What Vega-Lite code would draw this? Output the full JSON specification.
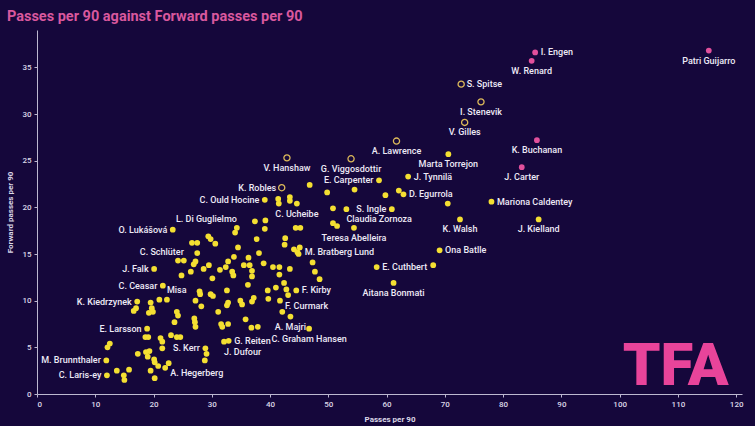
{
  "$schema": "https://vega.github.io/schema/vega-lite/v6.json",
  "width": 705,
  "height": 364,
  "autosize": {"type": "pad"},
  "padding": {"left": 6, "top": 8, "right": 12, "bottom": 3},
  "background": "#15073b",
  "title": {"text": "Passes per 90 against Forward passes per 90", "anchor": "start", "frame": "bounds", "color": "#d9589e", "fontSize": 14.5, "font": "Roboto", "fontWeight": "bold", "offset": 6},
  "config": {
    "view": {"stroke": null},
    "axis": {"domainColor": "#bdb8d0", "tickColor": "#bdb8d0", "tickSize": 3, "labelColor": "#dcd8e8", "labelFont": "Roboto", "labelFontSize": 8, "labelFontWeight": 500, "titleColor": "#dcd8e8", "titleFont": "Roboto", "titleFontSize": 8, "titleFontWeight": "bold", "labelPadding": 3, "titlePadding": 7, "grid": false}
  },
  "data": {"values": [
    {"name": "I. Engen", "passes": 85.5, "fwd": 36.6, "group": "Highlighted"},
    {"name": "W. Renard", "passes": 84.9, "fwd": 35.7, "group": "Highlighted"},
    {"name": "Patri Guijarro", "passes": 115.3, "fwd": 36.8, "group": "Highlighted"},
    {"name": "K. Buchanan", "passes": 85.8, "fwd": 27.2, "group": "Highlighted"},
    {"name": "J. Carter", "passes": 83.2, "fwd": 24.3, "group": "Highlighted"},
    {"name": "S. Spitse", "passes": 72.8, "fwd": 33.2, "group": "Circled"},
    {"name": "I. Stenevik", "passes": 76.2, "fwd": 31.3, "group": "Circled"},
    {"name": "V. Gilles", "passes": 73.4, "fwd": 29.1, "group": "Circled"},
    {"name": "A. Lawrence", "passes": 61.7, "fwd": 27.1, "group": "Circled"},
    {"name": "V. Hanshaw", "passes": 42.9, "fwd": 25.3, "group": "Circled"},
    {"name": "G. Viggosdottir", "passes": 53.9, "fwd": 25.2, "group": "Circled"},
    {"name": "K. Robles", "passes": 42.0, "fwd": 22.1, "group": "Circled"},
    {"name": "Marta Torrejon", "passes": 70.6, "fwd": 25.7, "group": "Other"},
    {"name": "Mariona Caldentey", "passes": 78.0, "fwd": 20.6, "group": "Other"},
    {"name": "K. Walsh", "passes": 72.6, "fwd": 18.7, "group": "Other"},
    {"name": "J. Kielland", "passes": 86.1, "fwd": 18.7, "group": "Other"},
    {"name": "Ona Batlle", "passes": 69.1, "fwd": 15.4, "group": "Other"},
    {"name": "E. Cuthbert", "passes": 58.3, "fwd": 13.6, "group": "Other"},
    {"name": "Aitana Bonmati", "passes": 61.2, "fwd": 11.9, "group": "Other"},
    {"name": "J. Tynnilä", "passes": 63.7, "fwd": 23.3, "group": "Other"},
    {"name": "E. Carpenter", "passes": 58.7, "fwd": 22.9, "group": "Other"},
    {"name": "D. Egurrola", "passes": 62.9, "fwd": 21.4, "group": "Other"},
    {"name": "S. Ingle", "passes": 60.9, "fwd": 19.8, "group": "Other"},
    {"name": "Claudia Zornoza", "passes": 53.1, "fwd": 19.8, "group": "Other"},
    {"name": "Teresa Abelleira", "passes": 54.4, "fwd": 17.8, "group": "Other"},
    {"name": "C. Ucheibe", "passes": 44.6, "fwd": 20.4, "group": "Other"},
    {"name": "C. Ould Hocine", "passes": 39.1, "fwd": 20.8, "group": "Other"},
    {"name": "M. Bratberg Lund", "passes": 45.1, "fwd": 15.7, "group": "Other"},
    {"name": "F. Kirby", "passes": 44.5, "fwd": 11.1, "group": "Other"},
    {"name": "F. Curmark", "passes": 41.7, "fwd": 10.0, "group": "Other"},
    {"name": "A. Majri", "passes": 43.5, "fwd": 8.3, "group": "Other"},
    {"name": "C. Graham Hansen", "passes": 46.7, "fwd": 7.0, "group": "Other"},
    {"name": "G. Reiten", "passes": 32.9, "fwd": 5.7, "group": "Other"},
    {"name": "J. Dufour", "passes": 32.1, "fwd": 5.6, "group": "Other"},
    {"name": "L. Di Guglielmo", "passes": 34.3, "fwd": 17.8, "group": "Other"},
    {"name": "O. Lukášová", "passes": 23.3, "fwd": 17.6, "group": "Other"},
    {"name": "C. Schlüter", "passes": 25.2, "fwd": 14.3, "group": "Other"},
    {"name": "J. Falk", "passes": 20.1, "fwd": 13.4, "group": "Other"},
    {"name": "C. Ceasar", "passes": 21.6, "fwd": 11.6, "group": "Other"},
    {"name": "Misa", "passes": 22.3, "fwd": 10.1, "group": "Other"},
    {"name": "K. Kiedrzynek", "passes": 17.2, "fwd": 9.9, "group": "Other"},
    {"name": "E. Larsson", "passes": 18.9, "fwd": 7.0, "group": "Other"},
    {"name": "M. Brunnthaler", "passes": 11.9, "fwd": 3.6, "group": "Other"},
    {"name": "C. Laris-ey", "passes": 12.0, "fwd": 2.0, "group": "Other"},
    {"name": "S. Kerr", "passes": 28.9, "fwd": 4.9, "group": "Other"},
    {"name": "A. Hegerberg", "passes": 22.0, "fwd": 2.8, "group": "Other"},
    {"name": "", "passes": 34.0, "fwd": 17.3, "group": "Other"},
    {"name": "", "passes": 37.4, "fwd": 18.5, "group": "Other"},
    {"name": "", "passes": 39.2, "fwd": 18.6, "group": "Other"},
    {"name": "", "passes": 39.1, "fwd": 17.7, "group": "Other"},
    {"name": "", "passes": 41.4, "fwd": 20.9, "group": "Other"},
    {"name": "", "passes": 41.5, "fwd": 20.4, "group": "Other"},
    {"name": "", "passes": 43.4, "fwd": 21.1, "group": "Other"},
    {"name": "", "passes": 43.4, "fwd": 20.7, "group": "Other"},
    {"name": "", "passes": 46.8, "fwd": 22.4, "group": "Other"},
    {"name": "", "passes": 49.8, "fwd": 21.6, "group": "Other"},
    {"name": "", "passes": 50.8, "fwd": 19.9, "group": "Other"},
    {"name": "", "passes": 54.5, "fwd": 21.9, "group": "Other"},
    {"name": "", "passes": 59.8, "fwd": 21.3, "group": "Other"},
    {"name": "", "passes": 62.1, "fwd": 21.8, "group": "Other"},
    {"name": "", "passes": 70.5, "fwd": 20.4, "group": "Other"},
    {"name": "", "passes": 44.4, "fwd": 17.8, "group": "Other"},
    {"name": "", "passes": 45.2, "fwd": 17.8, "group": "Other"},
    {"name": "", "passes": 50.8, "fwd": 18.3, "group": "Other"},
    {"name": "", "passes": 51.5, "fwd": 18.0, "group": "Other"},
    {"name": "", "passes": 68.0, "fwd": 13.8, "group": "Other"},
    {"name": "", "passes": 29.4, "fwd": 16.9, "group": "Other"},
    {"name": "", "passes": 29.8, "fwd": 16.6, "group": "Other"},
    {"name": "", "passes": 30.6, "fwd": 16.1, "group": "Other"},
    {"name": "", "passes": 26.6, "fwd": 16.2, "group": "Other"},
    {"name": "", "passes": 27.5, "fwd": 16.2, "group": "Other"},
    {"name": "", "passes": 27.5, "fwd": 15.1, "group": "Other"},
    {"name": "", "passes": 24.2, "fwd": 14.3, "group": "Other"},
    {"name": "", "passes": 27.2, "fwd": 14.2, "group": "Other"},
    {"name": "", "passes": 26.9, "fwd": 13.9, "group": "Other"},
    {"name": "", "passes": 26.4, "fwd": 13.1, "group": "Other"},
    {"name": "", "passes": 24.8, "fwd": 12.7, "group": "Other"},
    {"name": "", "passes": 28.6, "fwd": 13.4, "group": "Other"},
    {"name": "", "passes": 29.5, "fwd": 13.8, "group": "Other"},
    {"name": "", "passes": 31.4, "fwd": 13.3, "group": "Other"},
    {"name": "", "passes": 32.4, "fwd": 13.6, "group": "Other"},
    {"name": "", "passes": 32.8, "fwd": 14.2, "group": "Other"},
    {"name": "", "passes": 33.8, "fwd": 14.7, "group": "Other"},
    {"name": "", "passes": 34.5, "fwd": 15.7, "group": "Other"},
    {"name": "", "passes": 33.5, "fwd": 13.1, "group": "Other"},
    {"name": "", "passes": 33.7, "fwd": 12.7, "group": "Other"},
    {"name": "", "passes": 35.5, "fwd": 13.8, "group": "Other"},
    {"name": "", "passes": 36.3, "fwd": 14.6, "group": "Other"},
    {"name": "", "passes": 36.5, "fwd": 13.8, "group": "Other"},
    {"name": "", "passes": 36.9, "fwd": 13.2, "group": "Other"},
    {"name": "", "passes": 36.9, "fwd": 12.6, "group": "Other"},
    {"name": "", "passes": 37.7, "fwd": 16.6, "group": "Other"},
    {"name": "", "passes": 38.1, "fwd": 15.1, "group": "Other"},
    {"name": "", "passes": 38.9, "fwd": 14.0, "group": "Other"},
    {"name": "", "passes": 40.5, "fwd": 13.6, "group": "Other"},
    {"name": "", "passes": 41.6, "fwd": 13.6, "group": "Other"},
    {"name": "", "passes": 41.6, "fwd": 12.8, "group": "Other"},
    {"name": "", "passes": 43.4, "fwd": 13.4, "group": "Other"},
    {"name": "", "passes": 42.6, "fwd": 16.7, "group": "Other"},
    {"name": "", "passes": 42.5, "fwd": 16.0, "group": "Other"},
    {"name": "", "passes": 44.1, "fwd": 15.5, "group": "Other"},
    {"name": "", "passes": 44.7, "fwd": 15.2, "group": "Other"},
    {"name": "", "passes": 44.9, "fwd": 15.0, "group": "Other"},
    {"name": "", "passes": 47.3, "fwd": 14.1, "group": "Other"},
    {"name": "", "passes": 47.7, "fwd": 13.1, "group": "Other"},
    {"name": "", "passes": 48.5, "fwd": 12.3, "group": "Other"},
    {"name": "", "passes": 30.1, "fwd": 12.4, "group": "Other"},
    {"name": "", "passes": 36.2, "fwd": 11.7, "group": "Other"},
    {"name": "", "passes": 32.6, "fwd": 11.1, "group": "Other"},
    {"name": "", "passes": 29.8, "fwd": 10.7, "group": "Other"},
    {"name": "", "passes": 30.2, "fwd": 10.5, "group": "Other"},
    {"name": "", "passes": 27.9, "fwd": 11.0, "group": "Other"},
    {"name": "", "passes": 28.0, "fwd": 10.7, "group": "Other"},
    {"name": "", "passes": 27.2, "fwd": 10.0, "group": "Other"},
    {"name": "", "passes": 28.2, "fwd": 9.4, "group": "Other"},
    {"name": "", "passes": 32.8, "fwd": 9.8, "group": "Other"},
    {"name": "", "passes": 32.6, "fwd": 9.5, "group": "Other"},
    {"name": "", "passes": 34.9, "fwd": 10.0, "group": "Other"},
    {"name": "", "passes": 35.2, "fwd": 9.6, "group": "Other"},
    {"name": "", "passes": 36.9, "fwd": 9.9, "group": "Other"},
    {"name": "", "passes": 37.2, "fwd": 10.3, "group": "Other"},
    {"name": "", "passes": 31.1, "fwd": 8.8, "group": "Other"},
    {"name": "", "passes": 35.8, "fwd": 8.0, "group": "Other"},
    {"name": "", "passes": 31.6, "fwd": 7.5, "group": "Other"},
    {"name": "", "passes": 31.8, "fwd": 7.2, "group": "Other"},
    {"name": "", "passes": 32.8, "fwd": 7.5, "group": "Other"},
    {"name": "", "passes": 36.8, "fwd": 7.1, "group": "Other"},
    {"name": "", "passes": 37.9, "fwd": 7.2, "group": "Other"},
    {"name": "", "passes": 39.6, "fwd": 11.1, "group": "Other"},
    {"name": "", "passes": 41.0, "fwd": 11.4, "group": "Other"},
    {"name": "", "passes": 42.4, "fwd": 11.9, "group": "Other"},
    {"name": "", "passes": 42.8, "fwd": 11.2, "group": "Other"},
    {"name": "", "passes": 43.1, "fwd": 10.6, "group": "Other"},
    {"name": "", "passes": 39.7, "fwd": 10.2, "group": "Other"},
    {"name": "", "passes": 42.1, "fwd": 8.8, "group": "Other"},
    {"name": "", "passes": 27.0, "fwd": 8.1, "group": "Other"},
    {"name": "", "passes": 27.1, "fwd": 7.7, "group": "Other"},
    {"name": "", "passes": 27.2, "fwd": 7.2, "group": "Other"},
    {"name": "", "passes": 24.0, "fwd": 8.8, "group": "Other"},
    {"name": "", "passes": 24.2, "fwd": 8.4, "group": "Other"},
    {"name": "", "passes": 23.6, "fwd": 7.7, "group": "Other"},
    {"name": "", "passes": 21.0, "fwd": 10.1, "group": "Other"},
    {"name": "", "passes": 17.0, "fwd": 9.2, "group": "Other"},
    {"name": "", "passes": 16.6, "fwd": 8.9, "group": "Other"},
    {"name": "", "passes": 19.5, "fwd": 9.8, "group": "Other"},
    {"name": "", "passes": 19.7, "fwd": 9.2, "group": "Other"},
    {"name": "", "passes": 19.2, "fwd": 8.7, "group": "Other"},
    {"name": "", "passes": 19.9, "fwd": 8.8, "group": "Other"},
    {"name": "", "passes": 18.6, "fwd": 6.1, "group": "Other"},
    {"name": "", "passes": 19.1, "fwd": 6.1, "group": "Other"},
    {"name": "", "passes": 21.2, "fwd": 6.0, "group": "Other"},
    {"name": "", "passes": 21.5, "fwd": 5.6, "group": "Other"},
    {"name": "", "passes": 21.5, "fwd": 4.9, "group": "Other"},
    {"name": "", "passes": 23.0, "fwd": 6.3, "group": "Other"},
    {"name": "", "passes": 24.0, "fwd": 6.1, "group": "Other"},
    {"name": "", "passes": 24.6, "fwd": 6.1, "group": "Other"},
    {"name": "", "passes": 12.5, "fwd": 5.4, "group": "Other"},
    {"name": "", "passes": 12.1, "fwd": 5.0, "group": "Other"},
    {"name": "", "passes": 17.3, "fwd": 4.3, "group": "Other"},
    {"name": "", "passes": 18.7, "fwd": 4.5, "group": "Other"},
    {"name": "", "passes": 19.3, "fwd": 4.6, "group": "Other"},
    {"name": "", "passes": 19.0, "fwd": 4.0, "group": "Other"},
    {"name": "", "passes": 20.1, "fwd": 3.7, "group": "Other"},
    {"name": "", "passes": 20.2, "fwd": 3.4, "group": "Other"},
    {"name": "", "passes": 20.8, "fwd": 3.0, "group": "Other"},
    {"name": "", "passes": 22.6, "fwd": 3.3, "group": "Other"},
    {"name": "", "passes": 19.5, "fwd": 2.5, "group": "Other"},
    {"name": "", "passes": 20.2, "fwd": 1.7, "group": "Other"},
    {"name": "", "passes": 29.1, "fwd": 4.3, "group": "Other"},
    {"name": "", "passes": 28.8, "fwd": 3.6, "group": "Other"},
    {"name": "", "passes": 13.7, "fwd": 2.5, "group": "Other"},
    {"name": "", "passes": 15.8, "fwd": 2.6, "group": "Other"},
    {"name": "", "passes": 14.9, "fwd": 2.0, "group": "Other"},
    {"name": "", "passes": 15.0, "fwd": 1.5, "group": "Other"}
  ]},
  "layer": [
    {
      "encoding": {
        "x": {"field": "passes", "type": "quantitative", "scale": {"domain": [0, 121], "nice": false, "zero": false}, "axis": {"values": [0, 5, 10, 15, 20, 25, 30, 35, 40, 45, 50, 55, 60, 65, 70, 75, 80, 85, 90, 95, 100, 105, 110, 115, 120], "title": "Passes per 90"}},
        "y": {"field": "fwd", "type": "quantitative", "scale": {"domain": [0, 39], "nice": false, "zero": false}, "axis": {"values": [0, 5, 10, 15, 20, 25, 30, 35], "title": "Forward passes per 90"}}
      },
      "layer": [
        {
          "transform": [{"filter": "datum.group !== 'Circled'"}],
          "mark": {"type": "circle", "size": 33, "opacity": 1},
          "encoding": {"color": {"field": "group", "type": "nominal", "scale": {"domain": ["Highlighted", "Other"], "range": ["#e2509c", "#f4df32"]}, "legend": null}}
        },
        {
          "transform": [{"filter": "datum.group === 'Circled'"}],
          "mark": {"type": "point", "filled": false, "size": 38, "strokeWidth": 1.3, "color": "#dcb95a", "opacity": 1}
        },
        {
          "transform": [{"filter": {"field": "name", "oneOf": ["W. Renard", "Patri Guijarro", "I. Stenevik", "V. Gilles", "K. Buchanan", "Marta Torrejon", "J. Carter", "K. Walsh", "J. Kielland", "Aitana Bonmati", "A. Lawrence", "V. Hanshaw", "G. Viggosdottir", "Teresa Abelleira", "C. Ucheibe", "A. Majri", "C. Graham Hansen"]}}],
          "mark": {"type": "text", "align": "center", "baseline": "middle", "dy": 10, "font": "Roboto", "fontSize": 9, "fontWeight": 500, "color": "#eeeaf6"},
          "encoding": {"text": {"field": "name"}}
        },
        {
          "transform": [{"filter": {"field": "name", "oneOf": ["I. Engen", "S. Spitse", "Mariona Caldentey", "Ona Batlle", "E. Cuthbert", "D. Egurrola", "J. Tynnilä", "F. Kirby", "G. Reiten"]}}],
          "mark": {"type": "text", "align": "left", "baseline": "middle", "dx": 5.5, "font": "Roboto", "fontSize": 9, "fontWeight": 500, "color": "#eeeaf6"},
          "encoding": {"text": {"field": "name"}}
        },
        {
          "transform": [{"filter": {"field": "name", "oneOf": ["K. Robles", "C. Ould Hocine", "O. Lukášová", "E. Carpenter", "S. Ingle", "J. Falk", "C. Ceasar", "K. Kiedrzynek", "E. Larsson", "M. Brunnthaler", "C. Laris-ey", "S. Kerr"]}}],
          "mark": {"type": "text", "align": "right", "baseline": "middle", "dx": -5.5, "font": "Roboto", "fontSize": 9, "fontWeight": 500, "color": "#eeeaf6"},
          "encoding": {"text": {"field": "name"}}
        },
        {
          "transform": [{"filter": {"field": "name", "oneOf": ["A. Hegerberg", "F. Curmark", "M. Bratberg Lund"]}}],
          "mark": {"type": "text", "align": "left", "baseline": "middle", "dx": 5, "dy": 5, "font": "Roboto", "fontSize": 9, "fontWeight": 500, "color": "#eeeaf6"},
          "encoding": {"text": {"field": "name"}}
        },
        {
          "transform": [{"filter": {"field": "name", "oneOf": ["J. Dufour", "Claudia Zornoza"]}}],
          "mark": {"type": "text", "align": "left", "baseline": "middle", "dx": 0, "dy": 10, "font": "Roboto", "fontSize": 9, "fontWeight": 500, "color": "#eeeaf6"},
          "encoding": {"text": {"field": "name"}}
        },
        {
          "transform": [{"filter": {"field": "name", "oneOf": ["L. Di Guglielmo", "C. Schlüter"]}}],
          "mark": {"type": "text", "align": "right", "baseline": "middle", "dx": 0, "dy": -9, "font": "Roboto", "fontSize": 9, "fontWeight": 500, "color": "#eeeaf6"},
          "encoding": {"text": {"field": "name"}}
        },
        {
          "transform": [{"filter": {"field": "name", "oneOf": ["Misa"]}}],
          "mark": {"type": "text", "align": "left", "baseline": "middle", "dx": 0, "dy": -10, "font": "Roboto", "fontSize": 9, "fontWeight": 500, "color": "#eeeaf6"},
          "encoding": {"text": {"field": "name"}}
        }
      ]
    },
    {
      "data": {"values": [{"logo": "TFA"}]},
      "mark": {"type": "text", "align": "center", "baseline": "alphabetic", "font": "Roboto", "fontSize": 60, "fontWeight": 900, "color": "#e8449a"},
      "encoding": {"x": {"datum": 109.6, "type": "quantitative"}, "y": {"datum": 1.0, "type": "quantitative"}, "text": {"field": "logo"}}
    }
  ]
}
